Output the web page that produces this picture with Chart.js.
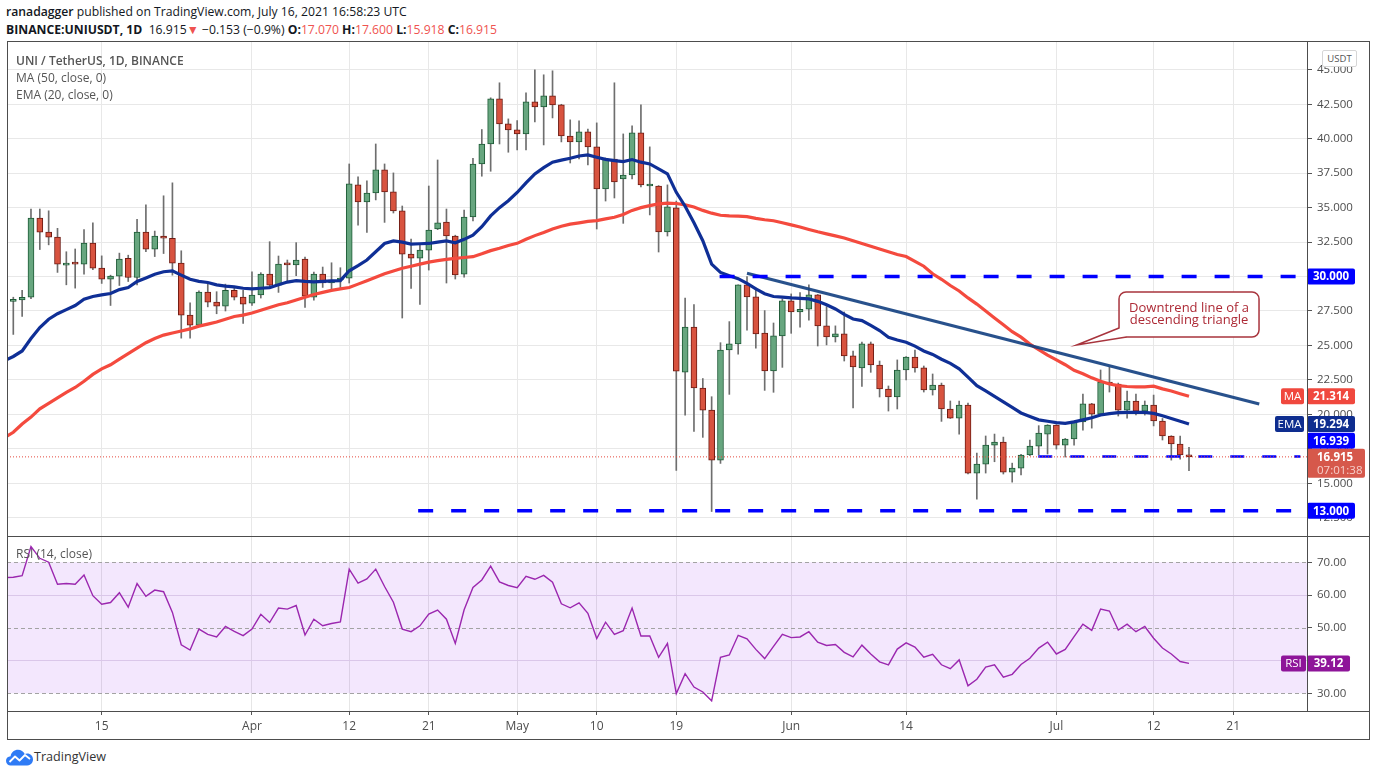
<!DOCTYPE html>
<html>
<head>
<meta charset="utf-8">
<script src="https://cdn.jsdelivr.net/npm/chart.js@4.4.0/dist/chart.umd.min.js"></script>
<style>
  body { margin: 0; width: 1376px; height: 776px; background: #fff; overflow: hidden; position: relative; font-family: "Open Sans", sans-serif; }
  .abs { position: absolute; white-space: nowrap; }
  .hdr { left: 6px; font-size: 12.2px; color: #131722; line-height: 18px; }
  .red { color: #ef5350; }
  .leg { left: 16px; font-size: 12px; color: #555; line-height: 17px; }
  .line { position: absolute; background: #4d4d4d; }
  canvas { position: absolute; }
</style>
</head>
<body>
<div class="abs hdr" style="top:3px"><b style="font-weight:600">ranadagger</b> published on TradingView.com, July 16, 2021 16:58:23 UTC</div>
<div class="abs hdr" style="top:21px"><b style="font-weight:700">BINANCE:UNIUSDT, 1D</b>&nbsp; 16.915<span class="red">▼</span> −0.153 (−0.9%) <b>O:</b><span class="red">17.070</span> <b>H:</b><span class="red">17.600</span> <b>L:</b><span class="red">15.918</span> <b>C:</b><span class="red">16.915</span></div>

<canvas id="price" width="1362" height="495" style="left:7px;top:42px;width:1362px;height:495px"></canvas>
<canvas id="rsi" width="1362" height="202" style="left:7px;top:537px;width:1362px;height:202px"></canvas>

<div class="abs leg" style="top:52px;font-weight:600">UNI / TetherUS, 1D, BINANCE</div>
<div class="abs leg" style="top:69px">MA (50, close, 0)</div>
<div class="abs leg" style="top:86px">EMA (20, close, 0)</div>
<div class="abs leg" style="top:545px">RSI (14, close)</div>
<div class="abs" style="left:1322px;top:50px;width:33px;height:15px;border:1px solid #d6d6d6;border-radius:2px;font-size:9.5px;color:#555;text-align:center;line-height:15px;background:#fff">USDT</div>

<div class="line" style="left:7px;top:41px;width:1363px;height:1px"></div>
<div class="line" style="left:7px;top:41px;width:1px;height:699px"></div>
<div class="line" style="left:1369px;top:41px;width:1px;height:699px"></div>
<div class="line" style="left:7px;top:739px;width:1363px;height:1px"></div>
<div class="line" style="left:7px;top:536px;width:1363px;height:1px"></div>
<div class="line" style="left:7px;top:711px;width:1363px;height:1px"></div>
<div class="line" style="left:1307px;top:41px;width:1px;height:671px"></div>

<svg class="abs" style="left:6px;top:749px" width="27" height="17" viewBox="0 0 27 17">
  <path d="M4.5 16.5C1.8 16.5 0 14.3 0 11.8 0 9.2 2 7.3 4.6 7.2 5.2 3.4 8.3 0.8 12 0.8c3 0 5.5 1.7 6.7 4.3 0.8-0.4 1.7-0.6 2.6-0.6 3.1 0 5.7 2.6 5.7 5.9 0 3.4-2.6 6.1-5.9 6.1z" fill="#2f7bf5"/>
  <polyline points="3.5,13 9,7.5 13.5,11.5 19,6 24,10" stroke="#fff" stroke-width="1.8" fill="none" stroke-linejoin="round"/>
</svg>
<div class="abs" style="left:34px;top:748px;font-size:12.6px;color:#333;line-height:18px">TradingView</div>

<script>
// daily candles, 2021-03-04 .. 2021-07-16 (index 0 = Mar 4)
const opens = [
  25.3, 28.2, 28.3, 28.5, 34.24, 33.22, 32.86, 30.83, 30.97, 30.9,
  32.42, 30.61, 29.81, 30.03, 31.33, 29.93, 33.22, 31.99, 32.93, 32.78,
  30.97, 27.2, 26.47, 28.87, 28.14, 27.85, 29.0, 28.51, 28.07, 28.66,
  30.18, 29.38, 30.9, 30.84, 31.27, 28.51, 30.18, 29.53, 29.75, 29.89,
  36.65, 35.41, 36.06, 37.74, 36.14, 34.76, 31.63, 31.34, 31.92, 33.45,
  33.96, 32.94, 30.18, 34.32, 38.17, 39.62, 42.89, 41.08, 40.64, 40.35,
  42.68, 42.31, 43.11, 42.46, 40.2, 39.77, 40.5, 39.41, 36.36, 38.53,
  37.08, 37.37, 40.42, 36.57, 36.57, 33.23, 34.98, 23.06, 26.33, 21.91,
  20.31, 16.68, 24.67, 25.11, 29.39, 28.52, 25.9, 23.15, 25.69, 28.23,
  27.43, 27.63, 28.67, 26.42, 25.62, 25.84, 24.24, 23.37, 25.11, 23.58,
  21.84, 21.26, 23.22, 24.16, 23.37, 21.77, 22.13, 20.39, 19.73, 20.68,
  15.74, 16.39, 17.77, 17.99, 15.81, 16.1, 17.05, 17.7, 18.57, 19.22,
  17.77, 18.21, 19.45, 20.76, 20.02, 22.35, 22.2, 20.31, 20.97, 20.24,
  20.68, 19.52, 18.43, 17.85, 17.07
];
const highs = [
  28.5, 28.5, 29.0, 34.9, 34.9, 34.77, 33.5, 31.8, 32.0, 33.4,
  33.9, 31.5, 30.1, 31.7, 31.55, 34.16, 35.2, 33.3, 35.86, 36.8,
  31.87, 28.1, 28.96, 29.52, 28.9, 29.45, 29.25, 29.0, 30.35, 30.28,
  32.53, 31.49, 31.2, 32.46, 31.42, 30.33, 30.69, 31.0, 30.64, 38.17,
  37.23, 36.94, 39.62, 38.17, 37.52, 35.12, 32.72, 32.36, 36.57, 38.46,
  34.9, 33.0, 34.83, 38.58, 40.67, 42.97, 44.06, 41.44, 41.32, 43.33,
  45.0, 44.64, 44.93, 42.5, 41.37, 41.3, 40.71, 41.15, 38.6, 44.06,
  40.35, 40.93, 42.46, 39.41, 36.6, 36.65, 35.48, 28.44, 27.97, 22.6,
  21.28, 25.2, 26.73, 29.39, 30.0, 29.18, 27.53, 26.63, 28.38, 28.74,
  28.84, 29.39, 28.7, 27.82, 26.42, 27.43, 24.6, 25.25, 25.25, 23.87,
  22.06, 23.95, 24.2, 24.67, 23.51, 22.93, 22.27, 20.97, 20.97, 20.82,
  17.19, 18.43, 18.57, 18.35, 16.46, 17.1, 18.14, 19.18, 19.25, 19.25,
  18.25, 19.52, 21.48, 20.8, 23.22, 23.41, 22.27, 21.69, 21.48, 20.97,
  21.4, 19.7, 18.45, 18.43, 17.6
];
const lows = [
  25.2, 25.8, 27.1, 28.4, 31.96, 32.3, 30.3, 29.4, 29.16, 30.17,
  30.5, 29.5, 27.9, 29.35, 29.64, 29.4, 31.8, 31.45, 31.67, 30.1,
  25.53, 25.53, 26.4, 27.8, 27.3, 27.5, 28.3, 26.6, 27.9, 28.44,
  29.3, 28.85, 29.6, 30.06, 27.76, 28.29, 29.21, 29.1, 29.1, 29.53,
  33.72, 33.2, 35.56, 33.93, 34.61, 26.99, 29.14, 27.98, 30.47, 33.4,
  29.53, 29.82, 29.96, 34.03, 37.28, 37.64, 39.62, 39.02, 39.19, 39.19,
  41.22, 39.55, 41.51, 39.77, 38.24, 38.53, 38.1, 33.45, 35.48, 35.7,
  33.86, 37.08, 36.5, 34.47, 31.78, 32.94, 15.94, 19.94, 18.77, 18.33,
  12.95, 16.44, 21.45, 24.36, 26.1, 24.8, 21.74, 21.6, 23.41, 25.88,
  26.32, 26.83, 24.96, 25.04, 25.25, 23.87, 20.46, 22.03, 23.05, 21.26,
  20.24, 20.39, 22.49, 23.07, 21.62, 21.4, 19.49, 19.7, 18.57, 15.67,
  13.85, 15.74, 16.56, 15.67, 15.08, 15.6, 17.0, 17.05, 17.12, 17.48,
  16.9, 17.77, 18.86, 19.0, 20.0, 21.62, 19.88, 19.73, 19.95, 19.95,
  19.16, 18.14, 16.68, 16.75, 15.918
];
const closes = [
  28.24, 28.25, 28.5, 34.24, 33.22, 32.86, 30.9, 30.97, 30.9, 32.42,
  30.61, 29.81, 30.03, 31.26, 29.93, 33.22, 31.99, 32.93, 32.78, 30.97,
  27.2, 26.47, 28.87, 28.14, 27.85, 29.0, 28.51, 28.0, 28.66, 30.18,
  29.38, 30.9, 30.85, 31.2, 28.58, 30.18, 29.53, 29.75, 29.89, 36.72,
  35.41, 36.06, 37.74, 36.14, 34.76, 31.63, 31.34, 31.92, 33.38, 33.89,
  32.94, 30.11, 34.32, 38.17, 39.62, 42.89, 41.08, 40.64, 40.35, 42.68,
  42.31, 43.11, 42.46, 40.2, 39.77, 40.5, 39.41, 36.36, 38.53, 36.86,
  37.37, 40.42, 36.65, 36.62, 33.23, 35.05, 23.14, 26.33, 21.91, 20.31,
  16.68, 24.67, 25.11, 29.39, 28.52, 25.84, 23.15, 25.69, 28.23, 27.43,
  27.63, 28.67, 26.42, 25.62, 25.84, 24.24, 23.44, 25.11, 23.58, 21.84,
  21.26, 23.22, 24.16, 23.37, 21.77, 22.13, 20.39, 19.73, 20.68, 15.74,
  16.39, 17.77, 17.99, 15.81, 16.1, 17.05, 17.7, 18.64, 19.22, 17.77,
  18.21, 19.45, 20.76, 20.02, 22.35, 22.2, 20.31, 20.97, 20.24, 20.68,
  19.52, 18.43, 17.85, 17.05, 16.915
];
const ma50 = [
  18.3, 18.7, 19.3, 19.8, 20.4, 20.8, 21.2, 21.6, 21.95, 22.4,
  22.9, 23.3, 23.6, 24.0, 24.4, 24.8, 25.2, 25.5, 25.75, 25.9,
  26.05, 26.2, 26.4, 26.55, 26.7, 26.9, 27.1, 27.2, 27.35, 27.55,
  27.75, 27.95, 28.1, 28.3, 28.5, 28.7, 28.85, 29.0, 29.1, 29.2,
  29.45, 29.7, 29.95, 30.2, 30.4, 30.6, 30.75, 30.9, 31.05, 31.15,
  31.25, 31.32, 31.38, 31.44, 31.65, 31.88, 32.05, 32.25, 32.41, 32.7,
  32.97, 33.2, 33.45, 33.65, 33.8, 33.9, 34.0, 34.06, 34.18, 34.3,
  34.5, 34.8, 35.0, 35.15, 35.27, 35.33, 35.3, 35.2, 35.05, 34.8,
  34.6, 34.45, 34.4, 34.38, 34.35, 34.22, 34.12, 34.05, 33.9, 33.75,
  33.6, 33.42, 33.25, 33.1, 32.95, 32.8, 32.6, 32.4, 32.2, 32.0,
  31.8, 31.6, 31.45, 31.1, 30.75, 30.2, 29.8, 29.35, 28.95, 28.45,
  28.0, 27.5, 27.0, 26.5, 26.0, 25.6, 25.1, 24.7, 24.3, 23.95,
  23.6, 23.2, 22.95, 22.65, 22.4, 22.2, 22.08, 22.02, 22.0, 22.0,
  22.05, 21.85, 21.7, 21.5, 21.314
];
const ema20 = [
  23.9, 24.2, 24.6, 25.5, 26.3, 26.9, 27.3, 27.6, 27.9, 28.35,
  28.55, 28.67, 28.77, 29.05, 29.2, 29.64, 29.9, 30.17, 30.35, 30.41,
  30.1, 29.8, 29.65, 29.57, 29.4, 29.3, 29.25, 29.15, 29.1, 29.15,
  29.2, 29.4, 29.6, 29.7, 29.65, 29.62, 29.65, 29.68, 29.7, 30.42,
  30.8, 31.2, 31.8, 32.4, 32.58, 32.5, 32.36, 32.38, 32.4, 32.5,
  32.58, 32.45, 32.7, 33.0, 33.62, 34.4, 35.0, 35.5, 36.1, 36.8,
  37.45, 37.9, 38.3, 38.45, 38.58, 38.75, 38.83, 38.66, 38.5, 38.41,
  38.34, 38.49, 38.3, 38.17, 37.81, 37.45, 36.11, 35.1, 33.9, 32.6,
  30.9, 30.3, 30.05, 29.85, 29.5, 29.1, 28.75, 28.55, 28.5, 28.45,
  28.42, 28.38, 28.2, 27.95, 27.65, 27.25, 26.92, 26.8, 26.45, 26.08,
  25.6, 25.4, 25.23, 24.95, 24.6, 24.35, 24.0, 23.7, 23.3, 22.7,
  22.08, 21.7, 21.3, 20.9, 20.5, 20.1, 19.85, 19.6, 19.5, 19.4,
  19.35, 19.45, 19.6, 19.75, 19.95, 20.05, 20.12, 20.14, 20.15, 20.14,
  20.07, 19.9, 19.7, 19.5, 19.294
];
const rsi14 = [
  65.3, 65.4, 65.9, 74.8, 71.2, 70.0, 63.3, 63.5, 63.3, 66.1,
  59.8, 57.2, 57.7, 60.7, 56.3, 63.5, 59.6, 61.5, 61.0, 54.7,
  44.8, 43.2, 49.6, 48.0, 47.2, 50.4, 48.9, 47.6, 49.6, 54.1,
  51.6, 56.0, 55.7, 56.8, 47.8, 52.6, 50.6, 51.3, 51.8, 67.9,
  63.6, 64.9, 67.9, 62.6, 57.8, 49.6, 48.8, 50.6, 54.2, 55.4,
  52.6, 45.2, 55.5, 62.3, 64.6, 68.8, 64.0, 62.9, 62.2, 65.7,
  64.8, 66.0, 63.9, 57.3, 56.1, 57.6, 54.4, 46.7, 51.7, 48.0,
  49.1, 56.0, 47.5, 47.5, 41.0, 45.2, 29.9, 36.0, 31.9, 30.4,
  27.7, 41.0, 41.7, 47.7, 46.6, 43.4, 40.6, 44.3, 48.0, 47.0,
  47.2, 48.8, 45.6, 44.6, 44.9, 42.5, 41.1, 44.7, 42.0, 39.6,
  38.7, 43.5, 45.4, 44.1, 41.0, 41.9, 38.7, 37.5, 40.2, 32.3,
  34.3, 38.0, 38.7, 34.9, 35.8, 38.8, 40.7, 43.8, 45.6, 42.0,
  43.4, 47.3, 51.1, 49.2, 55.7, 55.1, 49.3, 51.1, 48.8, 50.4,
  46.8, 43.8, 42.0, 39.7, 39.12
];

const tickDays = [11, 28, 39, 48, 58, 67, 76, 89, 102, 119, 130, 139];
const tickLabels = ['15', 'Apr', '12', '21', 'May', '10', '19', 'Jun', '14', 'Jul', '12', '21'];
const priceTicks = [12.5, 15, 17.5, 20, 22.5, 25, 27.5, 30, 32.5, 35, 37.5, 40, 42.5, 45];
const rsiTicks = [30, 40, 50, 60, 70];
const rsiBand = [30, 70];

// drawn levels: price and first day index where the line starts
const levelPrices = [30, 13, 16.939];
const levelStarts = [80.9, 46.8, 116.95];
const levelEnd = 146.6;
const trendLine = [{ x: 84.0, y: 30.24 }, { x: 141.95, y: 20.75 }];
const callout = { x: 121.3, y: 25.03, lines: ['Downtrend line of a', 'descending triangle'] };

const xMin = 0.287, xMax = 147.35;
const font = '"Open Sans", sans-serif';

const idx = closes.map((_, i) => i);
const isUp = idx.map(i => closes[i] >= opens[i]);
const lastClose = closes[closes.length - 1];

function lineSet(points, color, width, dash, order) {
  return { type: 'line', data: points, borderColor: color, borderWidth: width, borderDash: dash || [],
    pointRadius: 0, fill: false, tension: 0, order: order };
}

function tag(ctx, left, yc, w, h, bg, text, fg, bold) {
  ctx.fillStyle = bg;
  ctx.beginPath();
  ctx.roundRect(left, yc - h / 2, w, h, 2);
  ctx.fill();
  ctx.fillStyle = fg;
  ctx.font = (bold ? 'bold ' : '') + '11.5px ' + font;
  ctx.textAlign = 'center';
  ctx.textBaseline = 'middle';
  ctx.fillText(text, left + w / 2, yc + 0.5);
}

const priceOverlay = {
  id: 'priceOverlay',
  afterDraw(chart) {
    const { ctx, chartArea: a, scales: { x, y } } = chart;
    ctx.save();

    // callout box
    const tx = x.getPixelForValue(callout.x), ty = y.getPixelForValue(callout.y);
    const bx = tx + 42.3, by = ty - 53, bw = 140, bh = 45;
    ctx.lineWidth = 1.5;
    ctx.strokeStyle = '#a8343d';
    ctx.fillStyle = '#fff';
    ctx.beginPath();
    ctx.roundRect(bx, by, bw, bh, 7);
    ctx.fill();
    ctx.stroke();
    ctx.beginPath();
    ctx.moveTo(bx, by + bh - 9);
    ctx.lineTo(tx, ty);
    ctx.lineTo(bx + 7.5, by + bh);
    ctx.closePath();
    ctx.fill();
    ctx.beginPath();
    ctx.moveTo(bx, by + bh - 9);
    ctx.lineTo(tx, ty);
    ctx.lineTo(bx + 7.5, by + bh);
    ctx.stroke();
    ctx.fillStyle = '#ad2a36';
    ctx.font = '13px ' + font;
    ctx.textAlign = 'center';
    ctx.textBaseline = 'alphabetic';
    ctx.fillText(callout.lines[0], bx + bw / 2, by + 20);
    ctx.fillText(callout.lines[1], bx + bw / 2, by + 32);

    // right axis tags
    const L = a.right;
    const blue = '#0000ff';
    tag(ctx, L, y.getPixelForValue(levelPrices[0]), 48, 16, blue, '30.000', '#fff', true);
    tag(ctx, L, y.getPixelForValue(levelPrices[1]), 48, 16, blue, '13.000', '#fff', true);
    const yMa = y.getPixelForValue(ma50[ma50.length - 1]);
    tag(ctx, L - 26, yMa, 23, 16, '#f0483e', 'MA', '#fff', false);
    tag(ctx, L, yMa, 48, 16, '#f0483e', ma50[ma50.length - 1].toFixed(3), '#fff', true);
    const yEma = y.getPixelForValue(ema20[ema20.length - 1]);
    tag(ctx, L - 32, yEma, 29, 16, '#0e2d8f', 'EMA', '#fff', false);
    tag(ctx, L, yEma, 48, 16, '#0e2d8f', ema20[ema20.length - 1].toFixed(3), '#fff', true);

    const yCur = y.getPixelForValue(lastClose);
    const curTop = yCur - 8;
    const yLvl = Math.min(y.getPixelForValue(levelPrices[2]), curTop - 8);
    tag(ctx, L, yLvl, 48, 16, blue, levelPrices[2].toFixed(3), '#fff', true);

    ctx.fillStyle = '#d6584b';
    ctx.beginPath();
    ctx.roundRect(L, curTop, 58, 29, 2);
    ctx.fill();
    ctx.textAlign = 'left';
    ctx.textBaseline = 'middle';
    ctx.fillStyle = '#fff';
    ctx.font = 'bold 11.5px ' + font;
    ctx.fillText(lastClose.toFixed(3), L + 10, yCur + 0.5);
    ctx.fillStyle = '#f6cfca';
    ctx.font = '11.5px ' + font;
    ctx.fillText('07:01:38', L + 10, yCur + 13.5);
    ctx.restore();
  }
};

const rsiOverlay = {
  id: 'rsiOverlay',
  beforeDatasetsDraw(chart) {
    const { ctx, chartArea: a, scales: { y } } = chart;
    const top = y.getPixelForValue(rsiBand[1]), bot = y.getPixelForValue(rsiBand[0]);
    ctx.save();
    ctx.fillStyle = 'rgba(149, 38, 238, 0.11)';
    ctx.fillRect(a.left, top, a.right - a.left, bot - top);
    ctx.strokeStyle = '#a3a3a3';
    ctx.lineWidth = 1;
    ctx.setLineDash([4, 3]);
    [rsiBand[1], 50, rsiBand[0]].forEach(v => {
      const py = Math.round(y.getPixelForValue(v)) + 0.5;
      ctx.beginPath();
      ctx.moveTo(a.left, py);
      ctx.lineTo(a.right, py);
      ctx.stroke();
    });
    ctx.restore();
  },
  afterDraw(chart) {
    const { ctx, chartArea: a, scales: { y } } = chart;
    const last = rsi14[rsi14.length - 1];
    const py = y.getPixelForValue(last);
    ctx.save();
    tag(ctx, a.right - 26, py, 25, 16, '#8e1599', 'RSI', '#fff', false);
    tag(ctx, a.right, py, 43, 16, '#8e1599', last.toFixed(2), '#fff', true);
    ctx.restore();
  }
};

const fixY = s => { s.width = 62; s.paddingTop = 0; s.paddingBottom = 0; };

new Chart(document.getElementById('price'), {
  type: 'bar',
  data: {
    datasets: [
      { label: 'wick', data: idx.map(i => ({ x: i, y: [lows[i], highs[i]] })),
        backgroundColor: '#6e6e6e', barThickness: 1, grouped: false, order: 9 },
      { label: 'body', data: idx.map(i => ({ x: i, y: [opens[i], closes[i]] })),
        backgroundColor: isUp.map(u => u ? '#67a67f' : '#d8533f'),
        borderColor: isUp.map(u => u ? '#1d5a36' : '#6e1b13'),
        borderWidth: 1, borderSkipped: false, barThickness: 6, minBarLength: 2, grouped: false, order: 8 },
      lineSet(ma50.map((v, i) => ({ x: i, y: v })), '#f44a3e', 3.2, null, 7),
      lineSet(ema20.map((v, i) => ({ x: i, y: v })), '#0f2f96', 3.2, null, 6),
      lineSet(trendLine, 'rgba(22, 66, 130, 0.92)', 3.2, null, 5),
      lineSet([{ x: levelStarts[0], y: levelPrices[0] }, { x: levelEnd, y: levelPrices[0] }], '#0000ff', 3.5, [15, 18], 4),
      lineSet([{ x: levelStarts[1], y: levelPrices[1] }, { x: levelEnd, y: levelPrices[1] }], '#0000ff', 3.5, [15, 18], 3),
      lineSet([{ x: levelStarts[2], y: levelPrices[2] }, { x: levelEnd, y: levelPrices[2] }], '#0000ff', 2.5, [14, 18], 2),
      lineSet([{ x: xMin, y: lastClose }, { x: xMax, y: lastClose }], '#e4493d', 1, [1, 2], 1)
    ]
  },
  options: {
    responsive: false, animation: false,
    layout: { padding: 0 },
    plugins: { legend: { display: false }, tooltip: { enabled: false } },
    scales: {
      x: {
        type: 'linear', min: xMin, max: xMax, offset: false,
        grid: { color: '#e8e8e8', drawTicks: false, offset: false },
        border: { display: false },
        ticks: { display: false },
        afterBuildTicks: s => { s.ticks = tickDays.map(v => ({ value: v })); },
        afterFit: s => { s.height = 0; s.paddingLeft = 0; s.paddingRight = 0; }
      },
      y: {
        position: 'right', min: 11.10, max: 47.02,
        grid: { color: '#e8e8e8', tickLength: 5, tickColor: '#555' },
        border: { display: false },
        ticks: { color: '#4d4d4d', padding: 5, font: { family: font, size: 11.5 }, callback: v => v.toFixed(3) },
        afterBuildTicks: s => { s.ticks = priceTicks.map(v => ({ value: v })); },
        afterFit: fixY
      }
    }
  },
  plugins: [priceOverlay]
});

new Chart(document.getElementById('rsi'), {
  type: 'line',
  data: {
    datasets: [
      { data: rsi14.map((v, i) => ({ x: i, y: v })), borderColor: '#9b27af', borderWidth: 1.4,
        pointRadius: 0, fill: false, tension: 0 }
    ]
  },
  options: {
    responsive: false, animation: false,
    layout: { padding: 0 },
    plugins: { legend: { display: false }, tooltip: { enabled: false } },
    scales: {
      x: {
        type: 'linear', min: xMin, max: xMax, offset: false,
        grid: { color: '#e6e6e6', tickLength: 4, tickColor: '#555' },
        border: { display: false },
        ticks: { color: '#4d4d4d', padding: 4, autoSkip: false, maxRotation: 0,
          font: { family: font, size: 12 }, callback: (v, i) => tickLabels[i] },
        afterBuildTicks: s => { s.ticks = tickDays.map(v => ({ value: v })); },
        afterFit: s => { s.height = 28; s.paddingLeft = 0; s.paddingRight = 0; }
      },
      y: {
        position: 'right', min: 24.6, max: 77.7,
        grid: { color: c => (c.tick && (c.tick.value === 60 || c.tick.value === 40)) ? '#e3dce9' : 'rgba(0,0,0,0)',
          tickLength: 5, tickColor: '#555' },
        border: { display: false },
        ticks: { color: '#4d4d4d', padding: 5, font: { family: font, size: 11.5 }, callback: v => v.toFixed(2) },
        afterBuildTicks: s => { s.ticks = rsiTicks.map(v => ({ value: v })); },
        afterFit: fixY
      }
    }
  },
  plugins: [rsiOverlay]
});
</script>
</body>
</html>
